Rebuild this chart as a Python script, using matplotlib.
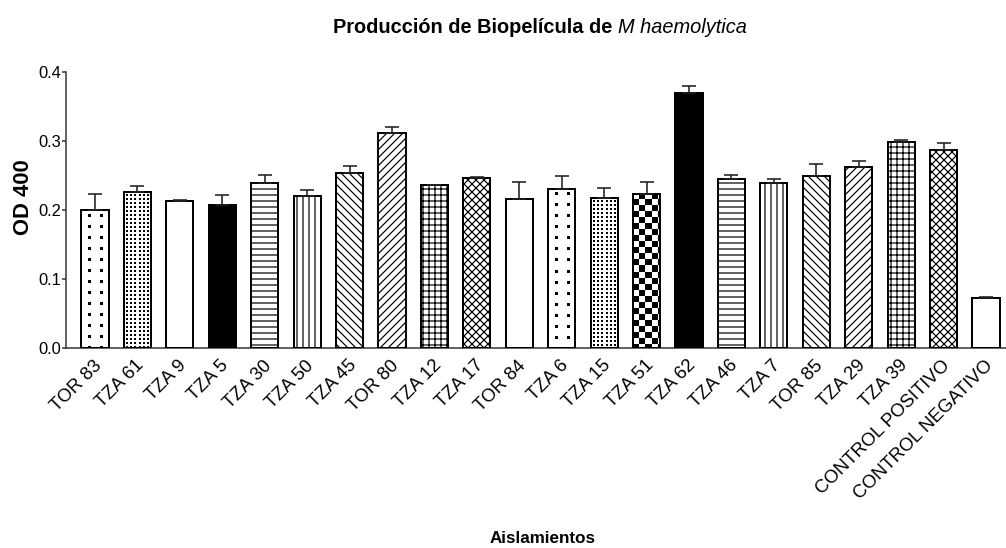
import numpy as np
import matplotlib
matplotlib.use('Agg')
import matplotlib.pyplot as plt
from matplotlib.transforms import ScaledTranslation

# datos
aislamientos = ['TOR 83', 'TZA 61', 'TZA 9', 'TZA 5', 'TZA 30', 'TZA 50', 'TZA 45',
                'TOR 80', 'TZA 12', 'TZA 17', 'TOR 84', 'TZA 6', 'TZA 15', 'TZA 51',
                'TZA 62', 'TZA 46', 'TZA 7', 'TOR 85', 'TZA 29', 'TZA 39',
                'CONTROL POSITIVO', 'CONTROL NEGATIVO']
od_400 = [0.200, 0.226, 0.213, 0.207, 0.239, 0.220, 0.254, 0.311, 0.236, 0.246, 0.216,
          0.231, 0.217, 0.2235, 0.370, 0.245, 0.239, 0.249, 0.262, 0.299, 0.2865, 0.0726]
sem = [0.023, 0.009, 0.002, 0.015, 0.012, 0.009, 0.010, 0.009, 0.0, 0.002, 0.025,
       0.019, 0.015, 0.0175, 0.009, 0.006, 0.006, 0.017, 0.009, 0.003, 0.011, 0.001]
patrones = ['puntos', 'puntos_densos', '', 'negro', '--', '||', '\\\\\\', '///', '++', 'xxx', '',
            'puntos', 'puntos_densos', 'ajedrez', 'negro', '--', '||', '\\\\\\', '///', '++', 'xxx', '']

plt.rcParams['font.family'] = ['Liberation Sans', 'DejaVu Sans']
plt.rcParams['hatch.linewidth'] = 1.2

DPI = 72
fig = plt.figure(figsize=(1006 / DPI, 548 / DPI), dpi=DPI)
ax = fig.add_axes([66 / 1006, 1 - 348 / 548, 940 / 1006, (348 - 72) / 548])

x = np.arange(len(aislamientos))
ancho = 0.64

barras = []
for i in range(len(x)):
    p = patrones[i]
    if p == 'negro':
        b = ax.bar(x[i], od_400[i], ancho, color='black', linewidth=0, zorder=2)
    elif p in ('', 'puntos', 'puntos_densos', 'ajedrez'):
        b = ax.bar(x[i], od_400[i], ancho, color='white', linewidth=0, zorder=2)
    else:
        b = ax.bar(x[i], od_400[i], ancho, color='white', hatch=p, edgecolor='black',
                   linewidth=0, zorder=2)
    barras.append(b[0])

ax.set_xlim(-0.683, 21.47)
ax.set_ylim(0, 0.4)


def textura(barra, tipo):
    # rellena la barra con una trama en pixeles (puntos o tablero)
    x0, y0 = ax.transData.transform((barra.get_x(), 0))
    x1, y1 = ax.transData.transform((barra.get_x() + barra.get_width(), barra.get_height()))
    w = int(round(x1 - x0))
    h = int(round(y1 - y0))
    jj, ii = np.meshgrid(np.arange(w), np.arange(h))
    if tipo == 'puntos':
        on = ((ii % 11) >= 4) & ((ii % 11) < 7) & ((jj % 11) >= 7) & ((jj % 11) < 10)
    elif tipo == 'puntos_densos':
        on = ((ii % 4) >= 2) & ((jj % 4) >= 2)
    else:
        on = ((ii // 6 + jj // 6) % 2) == 1
    img = np.where(on, 0.0, 1.0)
    ax.imshow(img, cmap='gray', vmin=0, vmax=1, origin='upper', aspect='auto',
              interpolation='nearest', zorder=2.5, clip_path=barra,
              extent=(barra.get_x(), barra.get_x() + barra.get_width(), 0, barra.get_height()))


for i, b in enumerate(barras):
    if patrones[i] in ('puntos', 'puntos_densos', 'ajedrez'):
        textura(b, patrones[i])

# contornos encima de las tramas
ax.bar(x, od_400, ancho, fill=False, edgecolor='black', linewidth=2, zorder=3)
ax.errorbar(x, od_400, yerr=[np.zeros(len(sem)), sem], fmt='none', ecolor='#222222',
            elinewidth=1.6, capsize=7, capthick=1.6, zorder=4)

ax.set_xlim(-0.683, 21.47)
ax.set_ylim(0, 0.4)

for lado in ['top', 'right']:
    ax.spines[lado].set_visible(False)
for lado in ['left', 'bottom']:
    ax.spines[lado].set_color('#333333')
    ax.spines[lado].set_linewidth(1.5)

ax.set_yticks([0.0, 0.1, 0.2, 0.3, 0.4])
ax.set_yticklabels(['0.0', '0.1', '0.2', '0.3', '0.4'], fontsize=16.5)
ax.tick_params(axis='y', length=4, width=1.5, color='#333333', pad=1)
ax.set_xticks(x)
ax.set_xticklabels(aislamientos, rotation=45, ha='right', va='center',
                   rotation_mode='anchor', fontsize=18.5)
ax.tick_params(axis='x', length=0, pad=15)
desplazar = ScaledTranslation(4 / DPI, 0, fig.dpi_scale_trans)
for t in ax.get_xticklabels():
    t.set_transform(t.get_transform() + desplazar)

fig.text(23.5 / 1006, 1 - 197.5 / 548, 'OD 400', rotation=90, fontsize=22,
         fontweight='bold', ha='center', va='center')
fig.text(543 / 1006, 1 - 543 / 548, 'Aislamientos', fontsize=17, fontweight='bold',
         ha='center', va='baseline')

# titulo en dos partes: negrita + cursiva
t1 = fig.text(0, 1 - 33 / 548, 'Producción de Biopelícula de ', fontsize=20,
              fontweight='bold', ha='left', va='baseline')
t2 = fig.text(0, 1 - 33 / 548, 'M haemolytica', fontsize=20, fontstyle='italic',
              ha='left', va='baseline')
fig.canvas.draw()
r = fig.canvas.get_renderer()
w1 = t1.get_window_extent(r).width
w2 = t2.get_window_extent(r).width
x_ini = 540 - (w1 + w2) / 2
t1.set_x(x_ini / 1006)
t2.set_x((x_ini + w1) / 1006)

fig.savefig('out.png', dpi=DPI)
